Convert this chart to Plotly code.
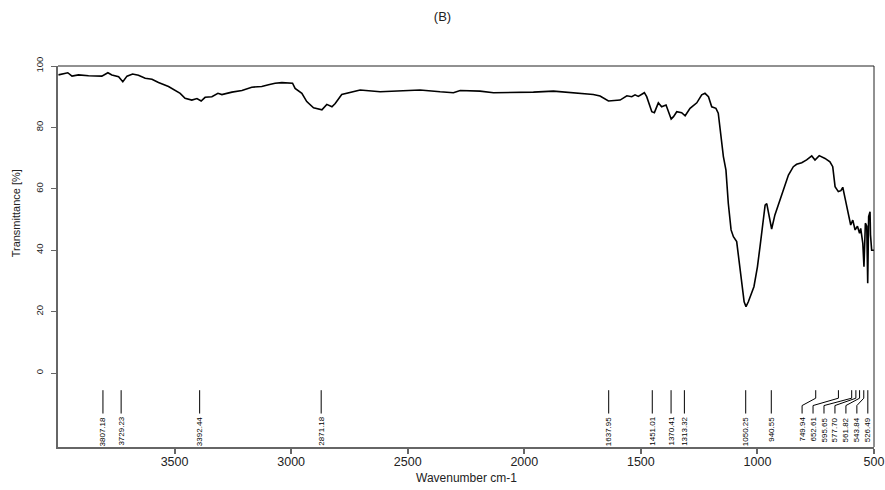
import plotly.graph_objects as go

# FT-IR spectrum, sample B
wavenumber = [
    3998, 3958, 3940, 3912, 3869, 3812, 3786, 3769, 3740, 3722, 3704, 3680, 3655, 3626,
    3597, 3569, 3526, 3497, 3476, 3455, 3426, 3404, 3386, 3369, 3340, 3314, 3297, 3254,
    3211, 3169, 3126, 3097, 3069, 3040, 3011, 2994, 2983, 2954, 2933, 2904, 2868, 2847,
    2825, 2811, 2783, 2747, 2704, 2618, 2533, 2447, 2361, 2304, 2275, 2190, 2132, 2047,
    1961, 1875, 1818, 1775, 1732, 1704, 1675, 1639, 1589, 1560, 1539, 1525, 1511, 1485,
    1475, 1453, 1442, 1425, 1411, 1392, 1370, 1360, 1346, 1325, 1310, 1289, 1260, 1239,
    1225, 1210, 1196, 1178, 1168, 1157, 1146, 1135, 1125, 1113, 1103, 1089, 1078, 1067,
    1057, 1049, 1039, 1015, 1000, 989, 977, 967, 960, 953, 939, 925, 903, 882, 867, 846,
    832, 810, 789, 767, 753, 735, 710, 689, 677, 667, 653, 642, 634, 624, 610, 600, 591,
    581, 571, 562, 557, 548, 543, 537, 531, 527, 523, 517, 515, 510, 500,
]
transmittance = [
    97.1, 97.8, 96.7, 97.1, 96.8, 96.7, 97.8, 97.1, 96.5, 94.9, 96.7, 97.4, 97.0, 96.0,
    95.7, 94.6, 93.3, 92.0, 91.1, 89.5, 88.9, 89.4, 88.6, 89.8, 90.0, 91.1, 90.7, 91.5,
    92.0, 93.1, 93.3, 93.9, 94.4, 94.6, 94.6, 94.4, 92.7, 91.1, 88.4, 86.4, 85.7, 87.5,
    86.7, 87.8, 90.7, 91.3, 92.2, 91.6, 92.0, 92.2, 91.6, 91.3, 92.0, 91.8, 91.3, 91.3,
    91.5, 91.8, 91.4, 91.1, 91.0, 90.7, 90.2, 88.6, 88.9, 90.3, 90.0, 90.6, 90.1, 91.3,
    90.0, 85.1, 84.8, 88.0, 86.7, 87.3, 82.7, 83.5, 85.1, 84.8, 83.8, 86.2, 88.0, 90.6,
    91.1, 90.0, 86.7, 86.2, 84.6, 77.0, 70.5, 66.1, 55.3, 46.6, 44.4, 42.8, 35.7, 28.1,
    23.2, 21.6, 23.2, 28.1, 34.6, 41.1, 48.8, 54.7, 55.2, 52.0, 46.9, 51.5, 56.4, 60.7,
    64.5, 67.2, 68.0, 68.5, 69.4, 70.7, 69.4, 70.8, 69.9, 68.8, 67.2, 60.7, 59.1, 59.4,
    60.5, 56.9, 52.0, 48.2, 49.8, 46.6, 47.8, 45.5, 47.1, 42.2, 34.6, 48.8, 47.8, 29.2,
    50.9, 52.5, 45.0, 40.0, 40.0,
]

# picked peaks (cm-1)
peak_wn = [3807.18, 3729.23, 3392.44, 2871.18, 1637.95, 1451.01, 1370.41, 1313.32,
           1050.25, 940.55, 749.94, 652.61, 595.65, 577.70, 561.82, 543.84, 526.49]

y_ticks = [0, 20, 40, 60, 80, 100]
x_ticks = [3500, 3000, 2500, 2000, 1500, 1000, 500]

NARROW = "'Liberation Sans Narrow', 'Arial Narrow', 'Liberation Sans', Arial, sans-serif"
REG = "'Liberation Sans', Arial, sans-serif"

fig = go.Figure()
fig.add_trace(go.Scatter(
    x=wavenumber, y=transmittance, mode="lines",
    line=dict(color="black", width=1.6), hoverinfo="skip", showlegend=False,
))

# spread crowded peak labels so they do not overlap
min_gap = 47.0
order = sorted(range(len(peak_wn)), key=lambda i: peak_wn[i])
label_x = [0.0] * len(peak_wn)
prev = None
for i in order:
    pos = peak_wn[i] if prev is None else max(peak_wn[i], prev + min_gap)
    label_x[i] = pos
    prev = pos

shapes = []
annotations = []
y_top, y_knee1, y_knee2, y_bot = -5.6, -8.2, -10.6, -13.2
for wn, lx in zip(peak_wn, label_x):
    if abs(lx - wn) < 1e-6:
        path = f"M {wn},{y_top} L {wn},{y_bot}"
    else:
        path = (f"M {wn},{y_top} L {wn},{y_knee1} "
                f"L {lx},{y_knee2} L {lx},{y_bot}")
    shapes.append(dict(type="path", xref="x", yref="y", path=path,
                       line=dict(color="black", width=1)))
    annotations.append(dict(
        x=lx, y=-14.0, xref="x", yref="y", text=f"{wn:.2f}",
        textangle=-90, xanchor="center", yanchor="top", showarrow=False,
        borderpad=0, font=dict(family=NARROW, size=8, color="black"),
    ))

# frame: top and right edges
shapes.append(dict(type="line", xref="paper", yref="paper", x0=0, x1=1, y0=1, y1=1,
                   line=dict(color="#222", width=1)))
shapes.append(dict(type="line", xref="paper", yref="paper", x0=1, x1=1, y0=0, y1=1,
                   line=dict(color="#222", width=1)))

annotations.append(dict(
    x=-0.0515, y=52, xref="paper", yref="y", text="Transmittance [%]",
    textangle=-90, showarrow=False, xanchor="center", yanchor="middle",
    font=dict(family=NARROW, size=11, color="#222"),
))
annotations.append(dict(
    x=0.5, y=-(478 - 447) / 381, xref="paper", yref="paper", text="Wavenumber cm-1",
    showarrow=False, xanchor="center", yanchor="middle",
    font=dict(family=REG, size=12, color="#222"),
))

fig.update_layout(
    width=885, height=490,
    margin=dict(l=58, r=11, t=66, b=43),
    paper_bgcolor="white", plot_bgcolor="white",
    title=dict(text="(B)", x=0.5, xref="container", xanchor="center",
               y=1 - 16 / 490, yref="container", yanchor="middle",
               font=dict(family=REG, size=13, color="#222")),
    shapes=shapes, annotations=annotations,
    xaxis=dict(
        range=[4000, 500], tickvals=x_ticks, ticktext=[str(v) for v in x_ticks],
        automargin=False, ticklabelstandoff=-3,
        showgrid=False, zeroline=False, showline=True, linecolor="#666", linewidth=1.5,
        ticks="outside", ticklen=5, tickcolor="#666", tickwidth=1.5,
        tickfont=dict(family=REG, size=12.5, color="#222"),
    ),
    yaxis=dict(
        range=[-24.1, 100], tickvals=y_ticks, ticktext=[str(v) for v in y_ticks],
        automargin=False, ticklabelstandoff=4,
        tickangle=-90, showgrid=False, zeroline=False, showline=True,
        linecolor="#666", linewidth=2, ticks="outside", ticklen=5,
        tickcolor="#666", tickwidth=1,
        tickfont=dict(family=NARROW, size=9.5, color="#222"),
    ),
)

fig.write_html("out.html")
